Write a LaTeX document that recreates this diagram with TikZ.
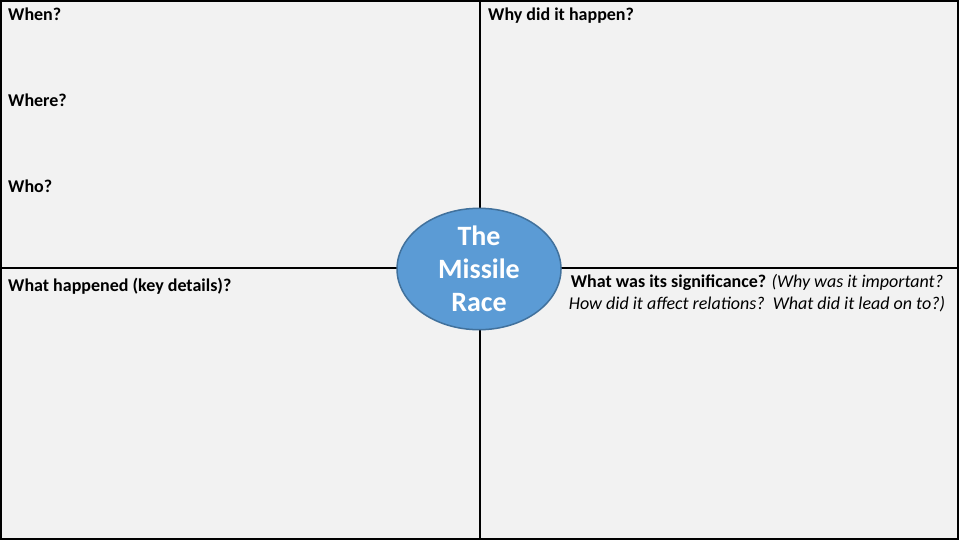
\documentclass[tikz,border=0pt]{standalone}
\usepackage{fontspec}
\setmainfont{Carlito}
\usetikzlibrary{shapes.geometric}
\definecolor{bg}{HTML}{F2F2F2}
\definecolor{ovalfill}{HTML}{5B9BD5}
\definecolor{ovalline}{HTML}{41719C}
\tikzset{
  gridline/.style={line width=2pt, black},
  label/.style={anchor=base west, inner sep=0pt, font=\fontsize{18}{22}\selectfont\bfseries},
  oval/.style={ellipse, draw=ovalline, line width=1.5pt, fill=ovalfill, minimum width=164pt, minimum height=110pt, inner sep=0pt, text=white, align=center, font=\fontsize{28}{33}\selectfont\bfseries},
  signif/.style={inner sep=0pt, align=center, font=\fontsize{18}{22}\selectfont}
}
\begin{document}
\begin{tikzpicture}[x=1pt,y=-1pt]
\useasboundingbox (0,0) rectangle (960,540);
\fill[white] (0,0) rectangle (960,540);
\fill[bg] (0,0) rectangle (958,540);
\coordinate (tl) at (1,1);
\coordinate (br) at (958,539);
\coordinate (vtop) at (480,0);
\coordinate (vbot) at (480,540);
\coordinate (hl) at (0,268);
\coordinate (hr) at (958,268);
\draw[gridline] (tl) rectangle (br);
\draw[gridline] (vtop) -- (vbot);
\draw[gridline] (hl) -- (hr);
\node[oval] (race) at (479,269) {The\\Missile\\Race};
\node[label] (when) at (8,21) {When?};
\node[label] (why) at (488,21) {Why did it happen?};
\node[label] (where) at (8,107) {Where?};
\node[label] (who) at (8,193) {Who?};
\node[label] (what) at (8,291) {What happened (key details)?};
\node[signif] (sig) at (757,293) {\textbf{What was its significance?} \textit{(Why was it important?}\\\textit{How did it affect relations?\ \ What did it lead on to?)}};
\end{tikzpicture}
\end{document}
